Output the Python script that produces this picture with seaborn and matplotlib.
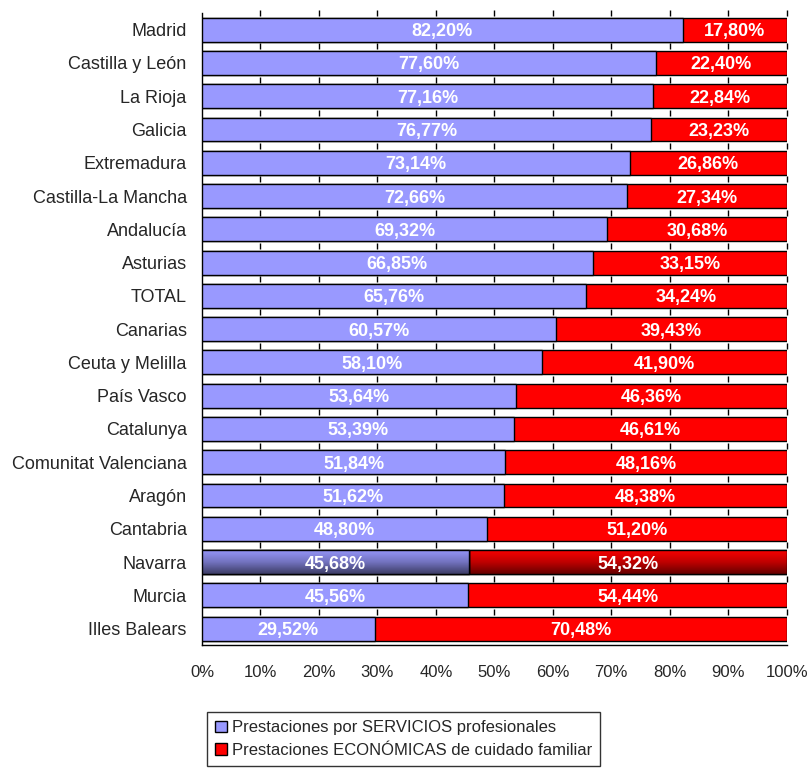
# plot.py - stacked 100% bars, servicios vs economicas por comunidad
import numpy as np
import pandas as pd
import matplotlib
matplotlib.use("Agg")
import matplotlib.pyplot as plt
import seaborn as sns
from matplotlib.colors import LinearSegmentedColormap

regions = ["Madrid", "Castilla y León", "La Rioja", "Galicia", "Extremadura",
           "Castilla-La Mancha", "Andalucía", "Asturias", "TOTAL", "Canarias",
           "Ceuta y Melilla", "País Vasco", "Catalunya", "Comunitat Valenciana",
           "Aragón", "Cantabria", "Navarra", "Murcia", "Illes Balears"]
servicios = [82.20, 77.60, 77.16, 76.77, 73.14, 72.66, 69.32, 66.85, 65.76, 60.57,
             58.10, 53.64, 53.39, 51.84, 51.62, 48.80, 45.68, 45.56, 29.52]
economicas = [17.80, 22.40, 22.84, 23.23, 26.86, 27.34, 30.68, 33.15, 34.24, 39.43,
              41.90, 46.36, 46.61, 48.16, 48.38, 51.20, 54.32, 54.44, 70.48]
highlight = "Navarra"

lbl_serv = "Prestaciones por SERVICIOS profesionales"
lbl_econ = "Prestaciones ECONÓMICAS de cuidado familiar"
blue = "#9999FF"
red = "#FF0000"

df = pd.DataFrame({"region": regions, "servicios": servicios, "economicas": economicas})
df["total"] = df["servicios"] + df["economicas"]

sns.set_style("white")
plt.rcParams["font.family"] = ["Liberation Sans", "DejaVu Sans"]

fig = plt.figure(figsize=(8.11, 7.69), dpi=100)
ax = fig.add_axes([0.249, 0.161, 0.721, 0.822])

sns.barplot(data=df, y="region", x="total", orient="h", color=red, width=0.72,
            saturation=1, edgecolor="black", linewidth=1.0, ax=ax)
sns.barplot(data=df, y="region", x="servicios", orient="h", color=blue, width=0.72,
            saturation=1, edgecolor="black", linewidth=1.0, ax=ax)

n = len(regions)
econ_patches = ax.patches[:n]
serv_patches = ax.patches[n:2 * n]
for p in econ_patches:
    p.set_zorder(2)
for p in serv_patches:
    p.set_zorder(3)

# shaded look on the highlighted row
idx = regions.index(highlight)
grad = np.linspace(0, 1, 64).reshape(-1, 1)
sp, ep = serv_patches[idx], econ_patches[idx]
segs = [(sp.get_x(), sp.get_width(), sp.get_y(), sp.get_height(), blue, 3),
        (sp.get_x() + sp.get_width(), ep.get_width() - sp.get_width(),
         ep.get_y(), ep.get_height(), red, 2)]
for x0, w, y0, h, c, z in segs:
    base = np.array(matplotlib.colors.to_rgb(c))
    cmap = LinearSegmentedColormap.from_list("g", [base * 0.97, base * 0.75, base * 0.4])
    ax.imshow(grad, aspect="auto", cmap=cmap, extent=(x0, x0 + w, y0 + h, y0),
              zorder=z + 0.5, interpolation="bilinear")
    ax.add_patch(plt.Rectangle((x0, y0), w, h, fill=False, edgecolor="black",
                               linewidth=1.0, zorder=z + 0.6))

for i in range(n):
    s, e = servicios[i], economicas[i]
    ax.text(s / 2, i, f"{s:.2f}%".replace(".", ","), ha="center", va="center_baseline",
            color="white", fontsize=13, fontweight="bold", zorder=10)
    ax.text(s + e / 2, i, f"{e:.2f}%".replace(".", ","), ha="center", va="center_baseline",
            color="white", fontsize=13, fontweight="bold", zorder=10)

ax.set_xlim(0, 100)
ax.set_ylim(n - 0.5, -0.5)
xt = np.arange(0, 101, 10)
ax.set_xticks(xt)
ax.set_xticklabels([f"{v}%" for v in xt], fontsize=12)
ax.set_yticks(range(n))
ax.set_yticklabels(regions, fontsize=13)
bounds = np.arange(-0.5, n, 1)
ax.set_yticks(bounds, minor=True)
ax.tick_params(axis="y", which="major", length=0, pad=11)
ax.tick_params(axis="y", which="minor", length=5, width=1, color="black")
ax.tick_params(axis="x", length=5, width=1, color="black", direction="out", pad=9)
ax.set_xlabel("")
ax.set_ylabel("")

# small marks at every 10% across each row gap
for b in bounds[:-1]:
    ax.plot(xt[1:], np.full(len(xt) - 1, b), linestyle="none", marker="|",
            markersize=5, color="black", markeredgewidth=1, zorder=1, clip_on=False)

for s in ["top", "right"]:
    ax.spines[s].set_visible(False)
for s in ["left", "bottom"]:
    ax.spines[s].set_color("black")
    ax.spines[s].set_linewidth(1.0)

hs = [plt.Rectangle((0, 0), 1, 1, facecolor=blue, edgecolor="black", linewidth=1),
      plt.Rectangle((0, 0), 1, 1, facecolor=red, edgecolor="black", linewidth=1)]
leg = fig.legend(hs, [lbl_serv, lbl_econ],
                 loc="upper left", bbox_to_anchor=(0.255, 0.074), ncol=1,
                 frameon=True, fancybox=False, edgecolor="black", fontsize=12,
                 handlelength=0.7, handleheight=0.7, handletextpad=0.3,
                 borderpad=0.5, labelspacing=0.45, borderaxespad=0)
leg.get_frame().set_linewidth(1.0)

fig.savefig("out.png", dpi=100)
